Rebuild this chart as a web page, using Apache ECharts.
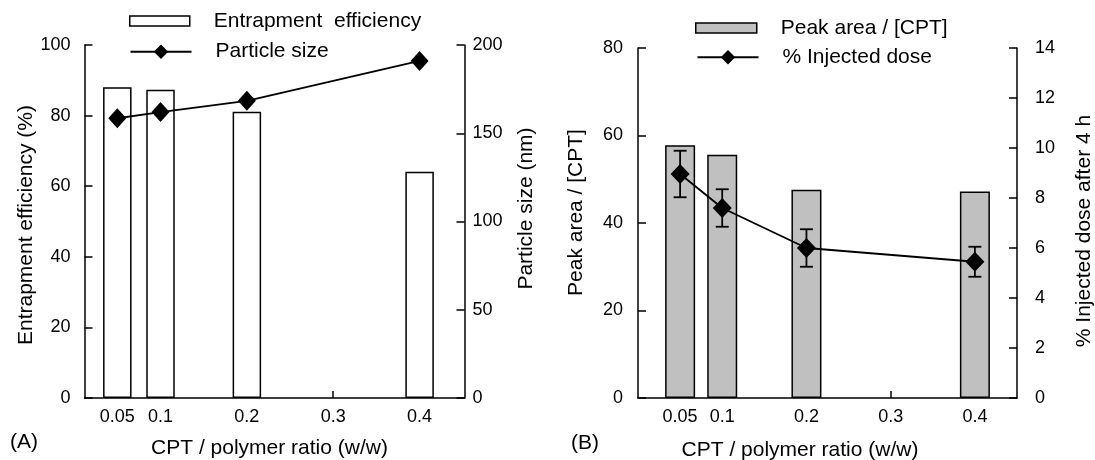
<!DOCTYPE html>
<html><head><meta charset="utf-8">
<script src="https://cdn.jsdelivr.net/npm/echarts@6/dist/echarts.min.js"></script>
<style>html,body{margin:0;padding:0;background:#fff}#c{width:1095px;height:460px}</style>
</head><body><div id="c"></div>
<script>
// ---- data ----
const ratios = [0.05, 0.1, 0.2, 0.4];
const xTickValues = [0.05, 0.1, 0.2, 0.3, 0.4];
const entrapmentEfficiency = [88.0, 87.3, 81.1, 64.1];
const particleSize = [158.5, 162.0, 168.4, 191.0];
const peakArea = [57.8, 55.6, 47.6, 47.2];
const injectedDose = [8.96, 7.6, 6.0, 5.45];
const injectedDoseErr = [0.93, 0.75, 0.75, 0.6];

const FONT = '"Liberation Sans", Arial, Helvetica, sans-serif';
const TITLE_SIZE = 21;
const pairs = (xs, ys) => xs.map((x, i) => [x, ys[i]]);

const axisCommon = {
  axisLine: { show: true, onZero: false, lineStyle: { color: '#000', width: 1.5 } },
  axisTick: { show: true, inside: true, length: 8, lineStyle: { color: '#000', width: 1.5 } },
  splitLine: { show: false },
  nameLocation: 'middle',
  nameTextStyle: { color: '#000', fontSize: TITLE_SIZE, fontFamily: FONT }
};
function yAx(o) {
  return Object.assign({ type: 'value' }, axisCommon, o, {
    axisLabel: Object.assign({ color: '#000', fontSize: 18, fontFamily: FONT }, o.axisLabel || {}),
    nameTextStyle: Object.assign({}, axisCommon.nameTextStyle, o.nameTextStyle || {})
  });
}
function xAx(o) {
  return Object.assign({ type: 'value' }, axisCommon, o, {
    axisTick: { show: true, inside: true, length: 7, customValues: xTickValues, lineStyle: { color: '#000', width: 1.5 } },
    axisLabel: { color: '#000', fontSize: 18, fontFamily: FONT, margin: 10, customValues: xTickValues },
    nameTextStyle: Object.assign({}, axisCommon.nameTextStyle, o.nameTextStyle || {})
  });
}

const legendText = { fontSize: TITLE_SIZE, color: '#000', fontFamily: FONT, padding: [0, 0, 0, 19] };

const option = {
  animation: false,
  backgroundColor: '#fff',
  textStyle: { fontFamily: FONT },
  title: [
    { text: '(A)', left: 10, top: 432, padding: 0, textStyle: { fontSize: TITLE_SIZE, fontWeight: 'normal', color: '#000', fontFamily: FONT } },
    { text: '(B)', left: 571, top: 433, padding: 0, textStyle: { fontSize: TITLE_SIZE, fontWeight: 'normal', color: '#000', fontFamily: FONT } }
  ],
  legend: [
    { data: [{ name: 'Entrapment  efficiency', icon: 'rect', itemStyle: { color: '#fff', borderColor: '#000', borderWidth: 1.5 } }],
      left: 129, top: 10.5, padding: 0, itemWidth: 60, itemHeight: 10, selectedMode: false, textStyle: legendText },
    { data: ['Particle size'], left: 129.5, top: 41.2, padding: 0, itemWidth: 61, itemHeight: 18, selectedMode: false, textStyle: legendText },
    { data: [{ name: 'Peak area / [CPT]', icon: 'rect', itemStyle: { color: '#c0c0c0', borderColor: '#000', borderWidth: 1.5 } }],
      left: 695, top: 17.5, padding: 0, itemWidth: 61, itemHeight: 10, selectedMode: false, textStyle: legendText },
    { data: ['% Injected dose'], left: 696.5, top: 46.8, padding: 0, itemWidth: 61, itemHeight: 18, selectedMode: false, textStyle: legendText }
  ],
  grid: [
    { left: 84.5, top: 45, width: 380, height: 353, outerBoundsMode: 'none', containLabel: false },
    { left: 638, top: 48, width: 379, height: 350, outerBoundsMode: 'none', containLabel: false }
  ],
  xAxis: [
    xAx({ gridIndex: 0, min: 0.012, max: 0.452, name: 'CPT / polymer ratio (w/w)', nameGap: 40, nameTextStyle: { padding: [0, 10, 0, 0] } }),
    xAx({ gridIndex: 1, min: 0, max: 0.45, name: 'CPT / polymer ratio (w/w)', nameGap: 42, nameTextStyle: { padding: [0, 55, 0, 0] } })
  ],
  yAxis: [
    yAx({ gridIndex: 0, position: 'left', min: 0, max: 100, interval: 20, axisLabel: { margin: 14 },
      name: 'Entrapment efficiency (%)', nameGap: 46, nameTextStyle: { padding: [0, 7, 0, 0] } }),
    yAx({ gridIndex: 0, position: 'right', min: 0, max: 200, interval: 50, axisLabel: { margin: 8 },
      name: 'Particle size (nm)', nameGap: 51, nameTextStyle: { padding: [0, 0, 0, 26] } }),
    yAx({ gridIndex: 1, position: 'left', min: 0, max: 80, interval: 20, axisLabel: { margin: 15 },
      name: 'Peak area / [CPT]', nameGap: 51, nameTextStyle: { padding: [0, 0, 0, 21] } }),
    yAx({ gridIndex: 1, position: 'right', min: 0, max: 14, interval: 2, axisLabel: { margin: 18 },
      name: '% Injected dose after 4 h', nameGap: 57, nameTextStyle: { padding: [0, 16, 0, 0] } })
  ],
  series: [
    { name: 'Entrapment  efficiency', type: 'bar', xAxisIndex: 0, yAxisIndex: 0, barWidth: 28.5,
      data: pairs(ratios, entrapmentEfficiency),
      itemStyle: { color: '#fff', borderColor: '#000', borderWidth: 1.5 }, z: 2 },
    { name: 'Particle size', type: 'line', xAxisIndex: 0, yAxisIndex: 1,
      data: pairs(ratios, particleSize), symbol: 'diamond', symbolSize: [18, 20],
      itemStyle: { color: '#000' }, lineStyle: { color: '#000', width: 1.8 }, z: 5 },
    { name: 'Peak area / [CPT]', type: 'bar', xAxisIndex: 1, yAxisIndex: 2, barWidth: 30,
      data: pairs(ratios, peakArea),
      itemStyle: { color: '#c0c0c0', borderColor: '#000', borderWidth: 1.5 }, z: 2 },
    { name: 'dose error', type: 'custom', xAxisIndex: 1, yAxisIndex: 3, z: 4,
      data: ratios.map((x, i) => [x, injectedDose[i] - injectedDoseErr[i], injectedDose[i] + injectedDoseErr[i]]),
      encode: { x: 0, y: [1, 2] },
      renderItem: function (params, api) {
        const x = api.value(0);
        const pLo = api.coord([x, api.value(1)]);
        const pHi = api.coord([x, api.value(2)]);
        const hw = 6.5;
        const st = { stroke: '#000', lineWidth: 1.8 };
        return { type: 'group', children: [
          { type: 'line', shape: { x1: pHi[0], y1: pHi[1], x2: pLo[0], y2: pLo[1] }, style: st },
          { type: 'line', shape: { x1: pHi[0] - hw, y1: pHi[1], x2: pHi[0] + hw, y2: pHi[1] }, style: st },
          { type: 'line', shape: { x1: pLo[0] - hw, y1: pLo[1], x2: pLo[0] + hw, y2: pLo[1] }, style: st }
        ] };
      } },
    { name: '% Injected dose', type: 'line', xAxisIndex: 1, yAxisIndex: 3,
      data: pairs(ratios, injectedDose), symbol: 'diamond', symbolSize: [19, 20],
      itemStyle: { color: '#000' }, lineStyle: { color: '#000', width: 1.8 }, z: 5 }
  ]
};
const chart = echarts.init(document.getElementById('c'), null, { renderer: 'canvas' });
chart.setOption(option);
</script></body></html>
